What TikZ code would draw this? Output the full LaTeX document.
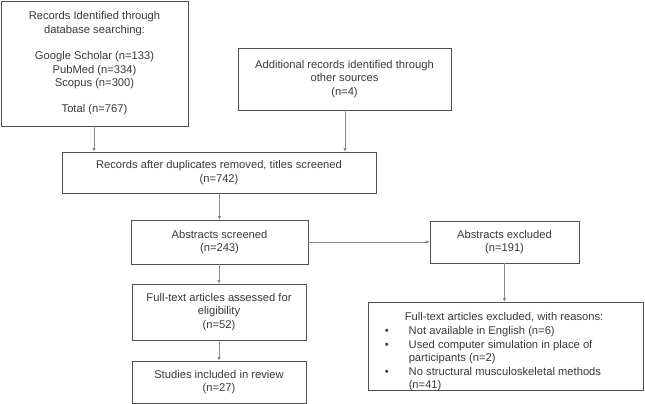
\documentclass[tikz,border=0pt]{standalone}
\usepackage{fontspec}
\setmainfont{Liberation Sans}
\usetikzlibrary{arrows.meta}
\definecolor{txt}{HTML}{3A3A3A}
\definecolor{bord}{HTML}{505050}
\definecolor{arr}{HTML}{8A8A8A}
\newcommand{\bul}{\makebox[24pt][l]{\textbullet}}
\newcommand{\nobul}{\makebox[24pt][l]{}}
\begin{document}
\begin{tikzpicture}[x=1pt,y=-1pt,
  box/.style={draw=bord,line width=0.9pt,inner sep=0pt,text=txt,align=center,
    font=\fontsize{11.2}{13.3}\selectfont},
  conn/.style={draw=arr,line width=0.7pt,-{Triangle[length=3.5pt,width=3pt]}}]
\useasboundingbox (0,0) rectangle (645,404);
\fill[white] (0,0) rectangle (645,404);
\node[box,minimum width=187pt,minimum height=125pt] (db) at (94.5,63.5)
  {Records Identified through\\database searching:\\[13.3pt]Google Scholar (n=133)\\PubMed (n=334)\\Scopus (n=300)\\[13.3pt]Total (n=767)};
\node[box,minimum width=213pt,minimum height=62pt] (other) at (344.5,79)
  {Additional records identified through\\other sources\\(n=4)};
\node[box,minimum width=314pt,minimum height=41pt] (dup) at (219,172.5)
  {Records after duplicates removed, titles screened\\(n=742)};
\node[box,minimum width=177pt,minimum height=44pt] (abs) at (219.5,242)
  {Abstracts screened\\(n=243)};
\node[box,minimum width=149pt,minimum height=42pt] (absx) at (504.5,242)
  {Abstracts excluded\\(n=191)};
\node[box,minimum width=174pt,minimum height=56pt] (full) at (219,312)
  {Full-text articles assessed for\\eligibility\\(n=52)};
\node[box,minimum width=174pt,minimum height=42pt] (inc) at (219,382)
  {Studies included in review\\(n=27)};
\node[box,minimum width=275pt,minimum height=88pt] (fullx) at (505.5,346) {};
\node[text=txt,inner sep=0pt,anchor=north west,align=left,
  font=\fontsize{11.2}{13.6}\selectfont] (fullxt) at ([xshift=17pt,yshift=-11pt]fullx.north west)
  {\hspace*{20pt}Full-text articles excluded, with reasons:\\
   \bul Not available in English (n=6)\\
   \bul Used computer simulation in place of\\
   \nobul participants (n=2)\\
   \bul No structural musculoskeletal methods\\
   \nobul (n=41)};
\draw[conn] (db.south -| 94,0) -- (dup.north -| 94,0);
\draw[conn] (other.south -| 345,0) -- (dup.north -| 345,0);
\draw[conn] (dup.south -| abs) -- (abs.north);
\draw[conn] (abs.east) -- (absx.west);
\draw[conn] (absx.south) -- (absx.south |- fullx.north);
\draw[conn] (abs.south -| full) -- (full.north);
\draw[conn] (full.south) -- (inc.north);
\end{tikzpicture}
\end{document}
